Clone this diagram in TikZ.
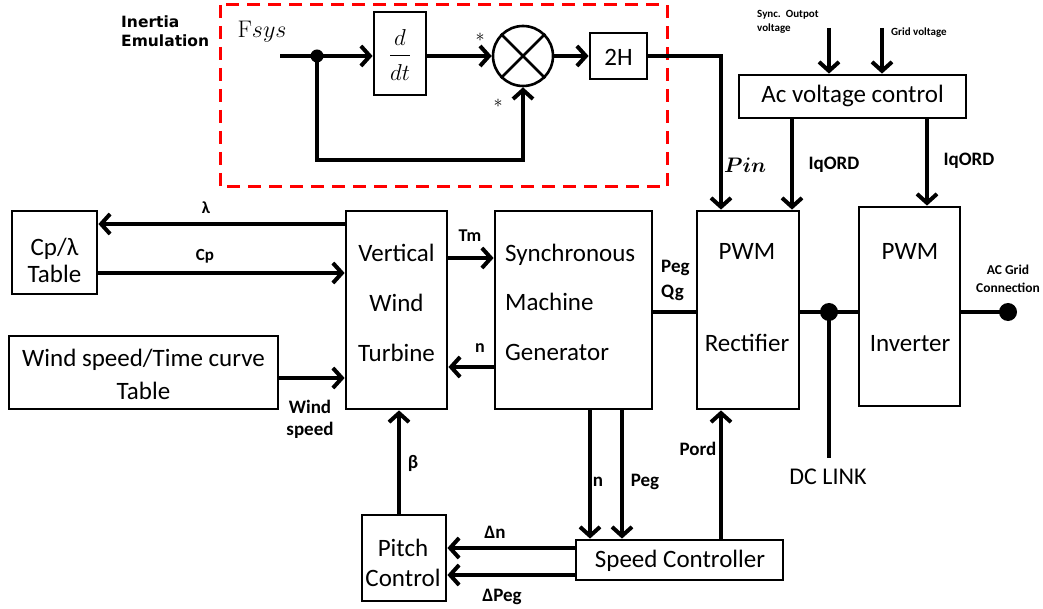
\RequirePackage{fix-cm}
\documentclass[tikz,border=0pt]{standalone}
\usepackage{amsmath}
\usepackage[no-math]{fontspec}
\setmainfont{Carlito}
\newfontfamily\heavyf{DejaVu Sans}
\usetikzlibrary{arrows.meta}
\begin{document}
\begin{tikzpicture}[x=1pt,y=-1pt,
  box/.style={draw, line width=2.8pt, rectangle, inner sep=0pt},
  conn/.style={line width=4pt},
  arr/.style={conn, -{Straight Barb[length=9pt,width=20pt]}},
  btxt/.style={font=\fontsize{25}{30}\selectfont, align=center, inner sep=0pt},
  lbl/.style={font=\fontsize{19}{22}\selectfont\bfseries, inner sep=0pt, align=center},
  slbl/.style={font=\fontsize{18}{20}\selectfont\bfseries, inner sep=0pt},
  tlbl/.style={font=\fontsize{11}{14}\selectfont\bfseries, inner sep=0pt, align=left},
  jdot/.style={circle, fill, inner sep=0pt},
]
\useasboundingbox (0,0) rectangle (1043,609);

% inertia emulation frame
\draw[red, line width=3pt, dash pattern=on 13pt off 8pt] (220,5) rectangle (667,187);
\node[font=\heavyf\fontsize{15.5}{19}\selectfont\bfseries, align=left, anchor=west, inner sep=0pt] (ie) at (121,31) {Inertia\\Emulation};
\node[font=\fontsize{24}{26}\selectfont, inner sep=0pt] (fsys) at (262,32) {$\mathrm{F}sys$};

% boxes
\node[box, minimum width=52, minimum height=83] (ddt) at (400,53.5) {};
\node[font=\fontsize{23}{26}\selectfont, inner sep=0pt] (ddtT) at (400,55) {$\displaystyle\frac{\rule[-6pt]{0pt}{6pt}d}{\rule{0pt}{22pt}dt}$};
\node[draw, circle, line width=2.6pt, minimum size=60, inner sep=0pt] (mult) at (523,56) {};
\draw[line width=2.6pt] (mult.north west) -- (mult.south east) (mult.north east) -- (mult.south west);
\node[box, minimum width=57, minimum height=46] (h2) at (618.5,56) {};
\node[btxt] (h2T) at (618.5,57) {2H};

\node[box, minimum width=227, minimum height=43] (acv) at (852.5,96.5) {};
\node[btxt] (acvT) at (852.5,96) {Ac voltage control};

\node[box, minimum width=85, minimum height=83] (cpt) at (54.5,252.5) {};
\node[btxt, font=\fontsize{25}{27}\selectfont] (cptT) at (54.5,260) {Cp/λ\\Table};
\node[box, minimum width=269, minimum height=73] (wst) at (143.5,372.5) {};
\node[btxt, font=\fontsize{25}{33}\selectfont] (wstT) at (143.5,374) {Wind speed/Time curve\\Table};
\node[box, minimum width=101, minimum height=198] (turb) at (396.5,310) {};
\node[btxt, font=\fontsize{25}{50}\selectfont] (turbT) at (396.5,303) {Vertical\\Wind\\Turbine};
\node[box, minimum width=157, minimum height=198] (gen) at (573.5,310) {};
\node[btxt, font=\fontsize{25}{49.5}\selectfont, align=left, anchor=west] (genT) at (505,302) {Synchronous\\Machine\\Generator};
\node[box, minimum width=102, minimum height=198] (rect) at (748,310) {};
\node[btxt, font=\fontsize{25}{92}\selectfont] (rectT) at (747,298) {PWM\\Rectifier};
\node[box, minimum width=101, minimum height=199] (inv) at (909.5,306.5) {};
\node[btxt, font=\fontsize{25}{92}\selectfont] (invT) at (910,298) {PWM\\Inverter};
\node[box, minimum width=207, minimum height=40] (spd) at (679.5,560) {};
\node[btxt] (spdT) at (680,561) {Speed Controller};
\node[box, minimum width=84, minimum height=86] (pitch) at (404,558) {};
\node[btxt, font=\fontsize{25}{30}\selectfont] (pitchT) at (403,563) {Pitch\\Control};

% junction dots
\node[jdot, minimum size=13] (dot) at (317,56) {};
\node[jdot, minimum size=18] (dcd) at (829,312) {};
\node[jdot, minimum size=18] (acd) at (1008,312) {};
\coordinate (fin) at (280,56);
\coordinate (sv) at (829,28);
\coordinate (gv) at (882,28);
\coordinate (dcend) at (829,458);

% inertia emulation connectors
\draw[conn] (fin) -- (dot.center);
\draw[arr] (dot.center) -- (ddt.west |- dot);
\draw[arr] (ddt.east |- mult) -- (mult.west);
\draw[arr] (mult.east) -- (h2.west |- mult);
\draw[arr] (dot.center) -- (317,160) -| (mult.south);
\draw[arr] (h2.east) -| (rect.north -| 721,0);

% ac voltage control
\draw[arr] (sv) -- (sv |- acv.north);
\draw[arr] (gv) -- (gv |- acv.north);
\draw[arr] (acv.south -| 792,0) -- (rect.north -| 792,0);
\draw[arr] (acv.south -| 927,0) -- (inv.north -| 927,0);

% turbine side
\draw[arr] (turb.west |- 0,224) -- (cpt.east |- 0,224);
\draw[arr] (cpt.east |- 0,273) -- (turb.west |- 0,273);
\draw[arr] (wst.east |- 0,378) -- (turb.west |- 0,378);
\draw[arr] (turb.east |- 0,258) -- (gen.west |- 0,258);
\draw[arr] (gen.west |- 0,367) -- (turb.east |- 0,367);

% power path
\draw[conn] (gen.east |- dcd) -- (rect.west |- dcd);
\draw[conn] (rect.east |- dcd) -- (dcd.center) -- (inv.west |- dcd);
\draw[conn] (dcd.center) -- (dcend);
\draw[conn] (inv.east |- acd) -- (acd.center);

% control loops
\draw[arr] (gen.south -| 590,0) -- (spd.north -| 590,0);
\draw[arr] (gen.south -| 622,0) -- (spd.north -| 622,0);
\draw[arr] (spd.north -| 721,0) -- (rect.south -| 721,0);
\draw[arr] (pitch.north -| 399,0) -- (turb.south -| 399,0);
\draw[arr] (spd.west |- 0,548) -- (pitch.east |- 0,548);
\draw[arr] (spd.west |- 0,575) -- (pitch.east |- 0,575);

% labels
\node[font=\fontsize{18}{20}\selectfont, inner sep=0pt] (st1) at (480,37) {$\ast$};
\node[font=\fontsize{18}{20}\selectfont, inner sep=0pt] (st2) at (498,103) {$\ast$};
\node[font=\fontsize{21}{24}\selectfont, inner sep=0pt] (pinL) at (745,165) {$\boldsymbol{Pin}$};
\node[lbl] (iq1) at (834,165) {IqORD};
\node[lbl] (iq2) at (969,161) {IqORD};
\node[tlbl, anchor=north west] (syncL) at (757,10) {Sync.\ \ Outpot\\voltage};
\node[tlbl, anchor=west] (gridL) at (891,33) {Grid voltage};
\node[slbl, font=\fontsize{17}{20}\selectfont\bfseries] (lamL) at (206,208) {λ};
\node[slbl, font=\fontsize{17}{20}\selectfont\bfseries] (cpL) at (205,256) {Cp};
\node[slbl] (tmL) at (470,236) {Tm};
\node[slbl] (nL1) at (480,348) {n};
\node[lbl] (wsL) at (310,419) {Wind\\speed};
\node[lbl, align=left, anchor=west, font=\fontsize{19}{25}\selectfont\bfseries] (pegqg) at (661,280) {Peg\\Qg};
\node[lbl] (pordL) at (698,449) {Pord};
\node[lbl] (nL2) at (598,482) {n};
\node[lbl] (pegL) at (645,482) {Peg};
\node[lbl] (betaL) at (413,463) {β};
\node[lbl] (dnL) at (495,532) {Δn};
\node[lbl] (dpL) at (502,597) {ΔPeg};
\node[btxt, font=\fontsize{24}{28}\selectfont] (dcL) at (828,477) {DC LINK};
\node[font=\fontsize{13.5}{18}\selectfont\bfseries, align=center, inner sep=0pt] (acL) at (1008,279) {AC Grid\\Connection};
\end{tikzpicture}
\end{document}
